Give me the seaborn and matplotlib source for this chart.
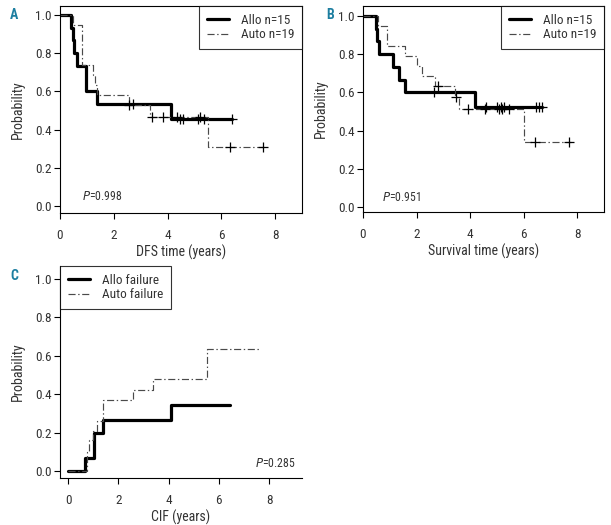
import matplotlib
matplotlib.use("Agg")
import matplotlib.pyplot as plt
import seaborn as sns
import pandas as pd
from matplotlib import font_manager

# ---------------- data ----------------
# Panel A: disease-free survival
allo_dfs_t = [0, 0.41, 0.47, 0.52, 0.64, 0.98, 1.38, 4.11, 6.38]
allo_dfs_s = [1.0, 0.933, 0.867, 0.800, 0.733, 0.600, 0.533, 0.457, 0.457]
auto_dfs_t = [0, 0.50, 0.80, 1.22, 1.30, 1.38, 2.55, 3.35, 5.49, 7.60]
auto_dfs_s = [1.0, 0.947, 0.737, 0.684, 0.632, 0.579, 0.526, 0.467, 0.311, 0.311]
allo_dfs_cens_t = [2.70, 4.46, 4.56, 5.14, 5.35, 6.38]
allo_dfs_cens_s = [0.533, 0.457, 0.457, 0.457, 0.457, 0.457]
auto_dfs_cens_t = [2.58, 3.42, 3.82, 4.34, 5.20, 6.32, 7.56]
auto_dfs_cens_s = [0.526, 0.467, 0.467, 0.467, 0.467, 0.311, 0.311]

# Panel B: overall survival
allo_os_t = [0, 0.48, 0.54, 0.60, 1.13, 1.34, 1.56, 4.19, 6.70]
allo_os_s = [1.0, 0.933, 0.867, 0.800, 0.733, 0.667, 0.600, 0.522, 0.522]
auto_os_t = [0, 0.57, 0.88, 1.56, 2.03, 2.20, 2.68, 3.42, 3.57, 6.02, 7.75]
auto_os_s = [1.0, 0.947, 0.842, 0.789, 0.737, 0.684, 0.632, 0.574, 0.511, 0.342, 0.342]
allo_os_cens_t = [2.64, 4.60, 5.00, 5.15, 5.25, 6.46, 6.58, 6.68]
allo_os_cens_s = [0.600, 0.522, 0.522, 0.522, 0.522, 0.522, 0.522, 0.522]
auto_os_cens_t = [2.80, 3.48, 3.92, 4.57, 5.09, 5.19, 5.46, 6.42, 7.70]
auto_os_cens_s = [0.632, 0.574, 0.511, 0.511, 0.511, 0.511, 0.511, 0.342, 0.342]

# Panel C: cumulative incidence of failure
allo_cif_t = [0, 0.68, 1.04, 1.41, 4.10, 6.43]
allo_cif_s = [0.0, 0.067, 0.200, 0.267, 0.343, 0.343]
auto_cif_t = [0, 0.74, 0.85, 0.98, 1.14, 1.40, 2.58, 3.37, 5.52, 7.58]
auto_cif_s = [0.0, 0.10, 0.16, 0.21, 0.26, 0.368, 0.42, 0.48, 0.635, 0.635]

y_ticks = [0.0, 0.2, 0.4, 0.6, 0.8, 1.0]
y_tick_labels = ["0.0", "0.2", "0.4", "0.6", "0.8", "1.0"]
x_ticks = [0, 2, 4, 6, 8]

# ---------------- style ----------------
sns.set_style("ticks")
names = sorted({f.name for f in font_manager.fontManager.ttflist})
fam = None
for cand in ["Liberation Sans Narrow", "Roboto Condensed", "Open Sans Condensed",
             "Noto Sans Condensed", "DejaVu Sans Condensed"]:
    if cand in names:
        fam = cand
        break
if fam is None:
    cond = [n for n in names if "Narrow" in n or "Condensed" in n]
    fam = cond[0] if cond else "Liberation Sans"
plt.rcParams["font.family"] = [fam, "DejaVu Sans"]
plt.rcParams["font.size"] = 9
TXT = "#333333"

fig = plt.figure(figsize=(6.11, 5.25), dpi=100)
W, H = 611, 525
def axes_px(l, t, r, b):
    return fig.add_axes([l / W, 1 - b / H, (r - l) / W, (b - t) / H])

axA = axes_px(60, 6, 302, 213)
axB = axes_px(363, 6, 604, 212)
axC = axes_px(60, 266, 302, 478)

solid_kw = dict(color="black", linewidth=2.3, drawstyle="steps-post")
dash_kw = dict(color="#4a4a4a", linewidth=0.85, drawstyle="steps-post")
DASH = (0, (6, 2.2, 1.2, 2.2))

def curve(ax, t, s, label, kind):
    df = pd.DataFrame({"t": t, "s": s})
    if kind == "solid":
        sns.lineplot(data=df, x="t", y="s", ax=ax, sort=False, estimator=None,
                     label=label, **solid_kw)
    else:
        sns.lineplot(data=df, x="t", y="s", ax=ax, sort=False, estimator=None,
                     label=label, linestyle=DASH, **dash_kw)

def cens(ax, t, s):
    df = pd.DataFrame({"t": t, "s": s})
    sns.scatterplot(data=df, x="t", y="s", ax=ax, marker="+", s=45,
                    color="black", linewidth=0.9, zorder=5)

def style(ax, xlabel, xlim, ylim, box=True):
    ax.set_xlim(*xlim)
    ax.set_ylim(*ylim)
    ax.set_xticks(x_ticks)
    ax.set_xticklabels([str(v) for v in x_ticks])
    ax.set_yticks(y_ticks)
    ax.set_yticklabels(y_tick_labels)
    ax.tick_params(axis="both", direction="out", length=4.5, width=0.8,
                   colors="black", labelcolor=TXT, labelsize=9.5)
    ax.tick_params(axis="x", pad=7)
    ax.tick_params(axis="y", pad=1.5)
    ax.set_xlabel(xlabel, fontsize=10, color=TXT, labelpad=2)
    ax.set_ylabel("Probability", fontsize=10, color=TXT, labelpad=7)
    for sp in ax.spines.values():
        sp.set_linewidth(0.8)
        sp.set_color("black")
    if not box:
        ax.spines["top"].set_visible(False)
        ax.spines["right"].set_visible(False)

def legend(ax, loc):
    leg = ax.legend(loc=loc, frameon=True, fancybox=False, borderaxespad=0,
                    fontsize=9.5, handlelength=1.7, handletextpad=0.85,
                    borderpad=0.6, labelspacing=0.12, labelcolor=TXT)
    leg.get_frame().set_edgecolor("black")
    leg.get_frame().set_linewidth(0.8)

# Panel A
curve(axA, allo_dfs_t, allo_dfs_s, "Allo n=15", "solid")
curve(axA, auto_dfs_t, auto_dfs_s, "Auto n=19", "dash")
cens(axA, allo_dfs_cens_t, allo_dfs_cens_s)
cens(axA, auto_dfs_cens_t, auto_dfs_cens_s)
style(axA, "DFS time (years)", (0, 9), (-0.037, 1.047))
legend(axA, "upper right")
axA.text(0.8, 0.05, "$\\it{P}$=0.998", fontsize=8.5, color=TXT, va="center")

# Panel B
curve(axB, allo_os_t, allo_os_s, "Allo n=15", "solid")
curve(axB, auto_os_t, auto_os_s, "Auto n=19", "dash")
cens(axB, allo_os_cens_t, allo_os_cens_s)
cens(axB, auto_os_cens_t, auto_os_cens_s)
style(axB, "Survival time (years)", (0, 9), (-0.026, 1.052))
legend(axB, "upper right")
axB.text(0.7, 0.05, "$\\it{P}$=0.951", fontsize=8.5, color=TXT, va="center")

# Panel C
curve(axC, allo_cif_t, allo_cif_s, "Allo failure", "solid")
curve(axC, auto_cif_t, auto_cif_s, "Auto failure", "dash")
style(axC, "CIF (years)", (-0.32, 9.31), (-0.036, 1.068), box=False)
legend(axC, "upper left")
axC.text(7.45, 0.04, "$\\it{P}$=0.285", fontsize=8.5, color=TXT, va="center")

# panel letters
LET = "#1d7ea0"
fig.text(10 / W, 1 - 15 / H, "A", fontsize=10, fontweight="bold", color=LET, va="center")
fig.text(326 / W, 1 - 15 / H, "B", fontsize=10, fontweight="bold", color=LET, va="center")
fig.text(10 / W, 1 - 276 / H, "C", fontsize=10, fontweight="bold", color=LET, va="center")

fig.savefig("out.png", dpi=100)
